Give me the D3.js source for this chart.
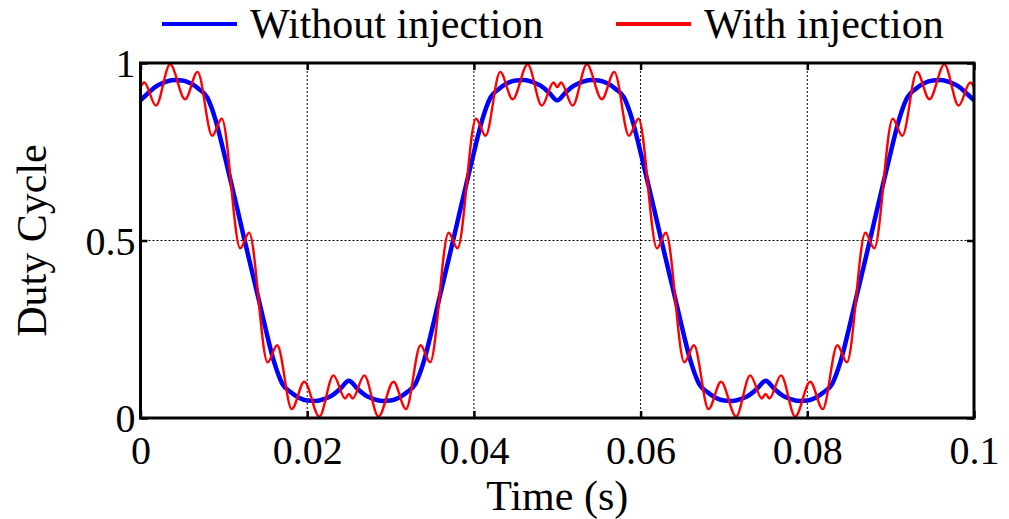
<!DOCTYPE html>
<html>
<head>
<meta charset="utf-8">
<script src="https://cdn.jsdelivr.net/npm/d3@7"></script>
<style>
  body { margin: 0; background: #fff; }
  svg { display: block; }
  text { font-family: "Liberation Serif", "Times New Roman", serif; fill: #000; }
</style>
</head>
<body>
<div id="chart"></div>
<script>
// duty cycle without injection, read every 1 ms from 0 to 100 ms
var blueValues = [
  0.895, 0.917, 0.936, 0.947, 0.952, 0.951, 0.943, 0.927, 0.903, 0.840,
  0.748, 0.650, 0.550, 0.450, 0.352, 0.252, 0.160, 0.097, 0.073, 0.057,
  0.049, 0.048, 0.053, 0.064, 0.083, 0.105, 0.083, 0.064, 0.053, 0.048,
  0.049, 0.057, 0.073, 0.097, 0.160, 0.252, 0.352, 0.450, 0.550, 0.650,
  0.748, 0.840, 0.903, 0.927, 0.943, 0.951, 0.952, 0.947, 0.936, 0.917,
  0.895, 0.917, 0.936, 0.947, 0.952, 0.951, 0.943, 0.927, 0.903, 0.840,
  0.748, 0.650, 0.550, 0.450, 0.352, 0.252, 0.160, 0.097, 0.073, 0.057,
  0.049, 0.048, 0.053, 0.064, 0.083, 0.105, 0.083, 0.064, 0.053, 0.048,
  0.049, 0.057, 0.073, 0.097, 0.160, 0.252, 0.352, 0.450, 0.550, 0.650,
  0.748, 0.840, 0.903, 0.927, 0.943, 0.951, 0.952, 0.947, 0.936, 0.917,
  0.895
];
var blueTimes = d3.range(0, 101).map(function(i) { return i / 1000; });

// duty cycle with injection: peaks and troughs of the ripple (time in ms)
var redTimes = [
  0, 0.45, 1.85, 3.55, 5.35, 6.85, 8.6, 9.75, 11.97, 13.03,
  15.25, 16.4, 18.15, 19.65, 21.45, 23.15, 24.55, 25, 25.45, 26.85,
  28.55, 30.35, 31.85, 33.6, 34.75, 36.97, 38.03, 40.25, 41.4, 43.15,
  44.65, 46.45, 48.15, 49.55, 50, 50.45, 51.85, 53.55, 55.35, 56.85,
  58.6, 59.75, 61.97, 63.03, 65.25, 66.4, 68.15, 69.65, 71.45, 73.15,
  74.55, 75, 75.45, 76.85, 78.55, 80.35, 81.85, 83.6, 84.75, 86.97,
  88.03, 90.25, 91.4, 93.15, 94.65, 96.45, 98.15, 99.55, 100
];
var redValues = [
  0.932, 0.945, 0.880, 0.996, 0.898, 0.975, 0.795, 0.843, 0.478, 0.522,
  0.157, 0.205, 0.025, 0.102, 0.004, 0.120, 0.055, 0.068, 0.055, 0.120,
  0.004, 0.102, 0.025, 0.205, 0.157, 0.522, 0.478, 0.843, 0.795, 0.975,
  0.898, 0.996, 0.880, 0.945, 0.932, 0.945, 0.880, 0.996, 0.898, 0.975,
  0.795, 0.843, 0.478, 0.522, 0.157, 0.205, 0.025, 0.102, 0.004, 0.120,
  0.055, 0.068, 0.055, 0.120, 0.004, 0.102, 0.025, 0.205, 0.157, 0.522,
  0.478, 0.843, 0.795, 0.975, 0.898, 0.996, 0.880, 0.945, 0.932
];

var xTicks = [0, 0.02, 0.04, 0.06, 0.08, 0.1];
var yTicks = [0, 0.5, 1];
var seriesNames = ["Without injection", "With injection"];
var seriesColors = ["#0000ff", "#ff0000"];

var blueData = blueTimes.map(function(t, i) { return { t: t, v: blueValues[i] }; });
var redData = redTimes.map(function(t, i) { return { t: t / 1000, v: redValues[i] }; });

var margin = { top: 63, right: 35, bottom: 101, left: 140.5 },
    width = 1009 - margin.left - margin.right,
    height = 519 - margin.top - margin.bottom;

var root = d3.select("#chart")
    .append("svg")
    .attr("width", 1009)
    .attr("height", 519);

var svg = root.append("g")
    .attr("transform", "translate(" + margin.left + "," + margin.top + ")");

var x = d3.scaleLinear().domain([0, 0.1]).range([0, width]);
var y = d3.scaleLinear().domain([0, 1]).range([height, 0]);

// dotted grid
svg.append("g")
    .selectAll("line")
    .data(xTicks.slice(1, -1))
    .enter()
    .append("line")
    .attr("x1", d => x(d)).attr("x2", d => x(d))
    .attr("y1", 0).attr("y2", height)
    .attr("stroke", "#000")
    .attr("stroke-width", 1)
    .attr("stroke-dasharray", "2,2");

svg.append("g")
    .selectAll("line")
    .data(yTicks.slice(1, -1))
    .enter()
    .append("line")
    .attr("x1", 0).attr("x2", width)
    .attr("y1", d => y(d)).attr("y2", d => y(d))
    .attr("stroke", "#000")
    .attr("stroke-width", 1)
    .attr("stroke-dasharray", "2,2");

// lines
var line = d3.line()
    .x(d => x(d.t))
    .y(d => y(d.v))
    .curve(d3.curveMonotoneX);

svg.append("path")
    .datum(blueData)
    .attr("fill", "none")
    .attr("stroke", seriesColors[0])
    .attr("stroke-width", 4.5)
    .attr("stroke-linejoin", "round")
    .attr("d", line);

svg.append("path")
    .datum(redData)
    .attr("fill", "none")
    .attr("stroke", seriesColors[1])
    .attr("stroke-width", 2.4)
    .attr("stroke-linejoin", "round")
    .attr("d", line);

// axes with inward ticks
var fmt = d => String(d);

var xAxis = svg.append("g")
    .attr("transform", "translate(0," + height + ")")
    .call(d3.axisBottom(x).tickValues(xTicks).tickSize(-7).tickPadding(18).tickFormat(fmt));

svg.append("g")
    .call(d3.axisTop(x).tickValues(xTicks).tickSize(-7).tickFormat(""));

var yAxis = svg.append("g")
    .call(d3.axisLeft(y).tickValues(yTicks).tickSize(-7).tickPadding(5).tickFormat(fmt));

svg.append("g")
    .attr("transform", "translate(" + width + ",0)")
    .call(d3.axisRight(y).tickValues(yTicks).tickSize(-7).tickFormat(""));

svg.selectAll(".domain").remove();
svg.selectAll(".tick line").attr("stroke", "#000").attr("stroke-width", 2.5);
svg.selectAll(".tick text")
    .style("font-family", "'Liberation Serif', 'Times New Roman', serif")
    .style("font-size", "40px");
yAxis.selectAll(".tick text").attr("dy", "0.34em");

svg.append("rect")
    .attr("x", 0).attr("y", 0)
    .attr("width", width).attr("height", height)
    .attr("fill", "none")
    .attr("stroke", "#000")
    .attr("stroke-width", 3);

// axis titles
svg.append("text")
    .attr("x", width / 2)
    .attr("y", height + 92)
    .attr("text-anchor", "middle")
    .style("font-size", "42px")
    .text("Time (s)");

svg.append("text")
    .attr("transform", "translate(" + (46 - margin.left) + "," + (height / 2) + ") rotate(-90)")
    .attr("text-anchor", "middle")
    .style("font-size", "42px")
    .text("Duty Cycle");

// legend
var legendX = [162, 616];
var legend = root.append("g")
    .selectAll("g")
    .data(seriesNames)
    .enter()
    .append("g")
    .attr("transform", (d, i) => "translate(" + legendX[i] + ",24)");

legend.append("line")
    .attr("x1", 0).attr("x2", 75)
    .attr("y1", 0).attr("y2", 0)
    .attr("stroke", (d, i) => seriesColors[i])
    .attr("stroke-width", 4);

legend.append("text")
    .attr("x", 88)
    .attr("y", 14)
    .style("font-size", "42px")
    .text(d => d);
</script>
</body>
</html>
